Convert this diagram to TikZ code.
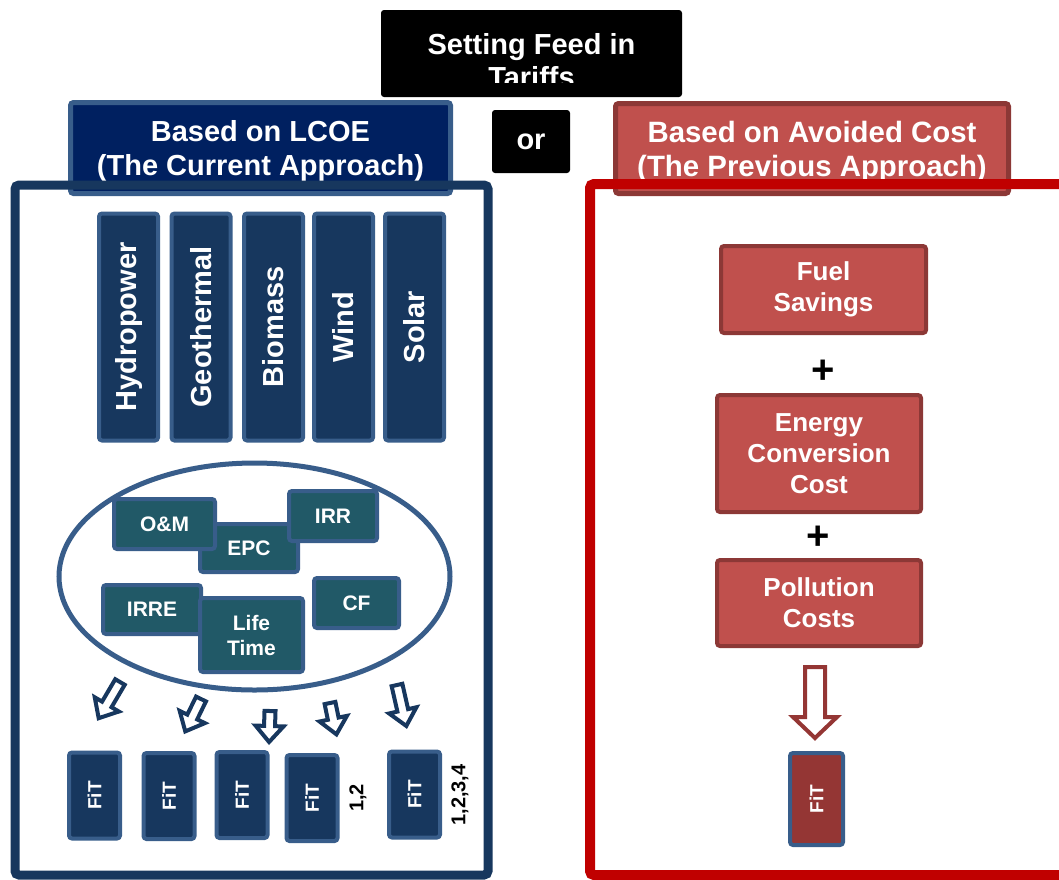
\documentclass[tikz,border=0pt]{standalone}
\usepackage{fontspec}
\setmainfont{Liberation Sans}
\usetikzlibrary{shapes.geometric}
\definecolor{hdrnavy}{HTML}{002060}
\definecolor{edgeblue}{HTML}{385D8A}
\definecolor{srcnavy}{HTML}{17375E}
\definecolor{parteal}{HTML}{215967}
\definecolor{costred}{HTML}{C0504D}
\definecolor{costedge}{HTML}{8C3836}
\definecolor{framered}{HTML}{C00000}
\definecolor{fitred}{HTML}{943634}
\tikzset{
  base/.style={rounded corners=1.5pt, align=center, text=white, inner sep=0pt},
  blk/.style={base, font=\bfseries\fontsize{14.5pt}{16.5pt}\selectfont},
  hdr/.style={base, draw=edgeblue, fill=hdrnavy, line width=2.5pt, text depth=0pt, font=\bfseries\fontsize{14.5pt}{17pt}\selectfont},
  avoid/.style={hdr, draw=costedge, fill=costred, font=\bfseries\fontsize{14.7pt}{17pt}\selectfont},
  src/.style={base, rotate=90, draw=edgeblue, fill=srcnavy, line width=2pt, minimum width=113.5pt, minimum height=29.5pt, font=\bfseries\fontsize{14.5pt}{17pt}\selectfont},
  param/.style={base, draw=edgeblue, fill=parteal, line width=2pt, font=\bfseries\fontsize{10.5pt}{12.5pt}\selectfont},
  fit/.style={base, rotate=90, draw=edgeblue, fill=srcnavy, line width=2pt, minimum width=43pt, minimum height=25.5pt, font=\bfseries\fontsize{9.5pt}{11pt}\selectfont},
  cost/.style={base, draw=costedge, fill=costred, line width=2pt, minimum width=102pt, font=\bfseries\fontsize{13pt}{15.5pt}\selectfont},
  lbl/.style={rotate=90, inner sep=0pt, font=\bfseries\fontsize{10pt}{12pt}\selectfont},
  navyarrow/.style={draw=srcnavy, fill=white, line width=2pt},
  redarrow/.style={draw=fitred, fill=white, line width=2pt},
  pics/hollowarrow/.style n args={5}{code={
    \draw[#5] (0,-#4) -- (#1-#2,-#4) -- (#1-#2,-#3) -- (#1,0) -- (#1-#2,#3) -- (#1-#2,#4) -- (0,#4) -- cycle;
  }}
}
\begin{document}
\begin{tikzpicture}[x=0.5pt, y=-0.5pt]
\useasboundingbox (0,0) rectangle (1059,879);
\clip (0,0) rectangle (1059,879);
\fill[rounded corners=1.5pt] (381,10) rectangle (682,97);
\begin{scope}
\clip (381,10) rectangle (682,82);
\node[blk] (title) at (531.5,61) {Setting Feed in\\Tariffs};
\end{scope}
\node[blk, fill=black, minimum width=39pt, minimum height=31.5pt] (or) at (531,141.5) {or};
\node[hdr, minimum width=190pt, minimum height=45.5pt] (lcoe) at (260.5,148) {Based on LCOE\\(The Current Approach)};
\node[avoid, minimum width=196.5pt, minimum height=45pt] (avoided) at (812,148.5) {Based on Avoided Cost\\(The Previous Approach)};
\draw[srcnavy, line width=4.5pt, rounded corners=2pt] (15,185) rectangle (488,875);
\draw[framered, line width=5pt, rounded corners=2pt] (590,184) rectangle (1080,875);
\foreach \lbl/\xc [count=\i] in {Hydropower/128.5, Geothermal/201, Biomass/273.5, Wind/343.5, Solar/414.5}
  \node[src] (src\i) at (\xc,327) {\lbl};
\node[ellipse, draw=edgeblue, line width=2.5pt, fill=white, minimum width=195.5pt, minimum height=113.5pt] (params) at (254.5,576.5) {};
\node[param, minimum width=49pt, minimum height=24pt] (epc) at (249,548) {EPC};
\node[param, minimum width=50.5pt, minimum height=25pt] (om) at (164.5,524) {O\&M};
\node[param, minimum width=44pt, minimum height=25pt] (irr) at (333,516) {IRR};
\node[param, minimum width=49pt, minimum height=24.5pt] (irre) at (152,609.5) {IRRE};
\node[param, minimum width=51.5pt, minimum height=37pt] (life) at (251.5,635) {Life\\Time};
\node[param, minimum width=42.5pt, minimum height=25pt] (cf) at (356.5,603) {CF};
\foreach \xc/\yc/\ang/\len in {120/682/-120.5/42, 201/699/-115.9/36, 270/711/-91.7/31, 330/703/-78.4/32, 397/685/-77.2/42}
  \pic[rotate=\ang] at (\xc,\yc) {hollowarrow={\len}{16}{14}{5.5}{navyarrow}};
\foreach \xc/\yc [count=\i] in {94.5/795.5, 169/796, 242/795, 312/798, 414.5/794.5}
  \node[fit] (fit\i) at (\xc,\yc) {FiT};
\node[lbl] (setA) at (358,798) {1,2};
\node[lbl] (setB) at (460,795) {1,2,3,4};
\node[cost, minimum width=102.5pt, minimum height=43.5pt] (fuel) at (823.5,289.5) {Fuel\\Savings};
\node[font=\bfseries\fontsize{20pt}{20pt}\selectfont, inner sep=0pt] (plusA) at (823,372) {+};
\node[cost, minimum height=58.5pt] (conv) at (819,453.5) {Energy\\Conversion\\Cost};
\node[font=\bfseries\fontsize{20pt}{20pt}\selectfont, inner sep=0pt] (plusB) at (818,538) {+};
\node[cost, minimum height=43pt] (poll) at (819,603) {Pollution\\Costs};
\pic[rotate=-90] at (815,667) {hollowarrow={71}{21}{22}{10}{redarrow}};
\node[fit, fill=fitred, minimum width=46pt, minimum height=26.5pt] (fitavoid) at (816.5,799) {FiT};
\end{tikzpicture}
\end{document}
